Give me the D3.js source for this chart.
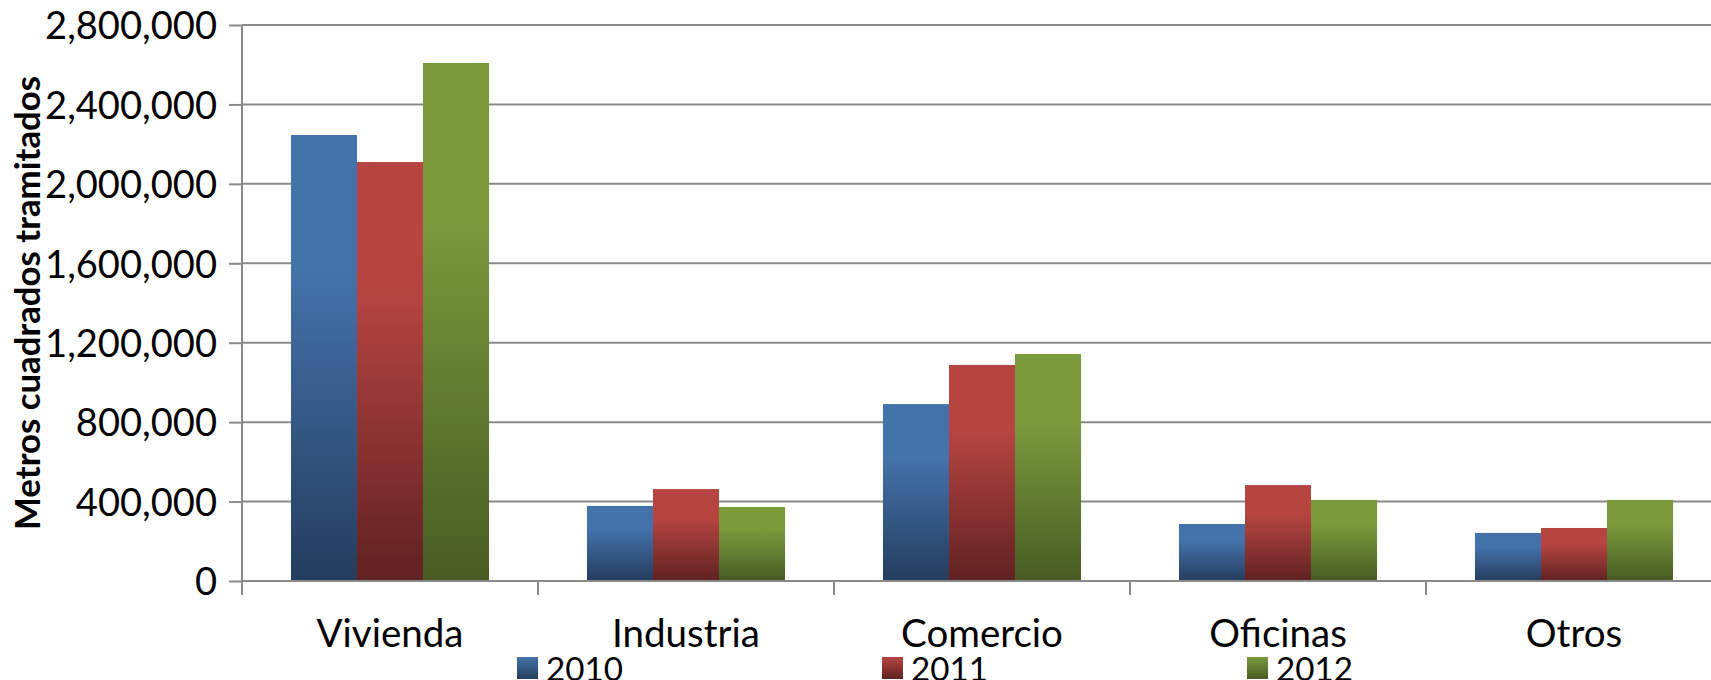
<!DOCTYPE html>
<html>
<head>
<meta charset="utf-8">
<script src="https://cdn.jsdelivr.net/npm/d3@7"></script>
<style>
  html, body { margin: 0; padding: 0; background: #fff; }
  svg { display: block; }
  text { font-family: Lato, "Open Sans", sans-serif; fill: #000; }
</style>
</head>
<body>
<svg id="chart" width="1711" height="680"></svg>
<script>
const categories = ["Vivienda", "Industria", "Comercio", "Oficinas", "Otros"];
const years = ["2010", "2011", "2012"];
const values2010 = [2246000, 378000, 891000, 287000, 242000];
const values2011 = [2110000, 463000, 1088000, 483000, 267000];
const values2012 = [2609000, 373000, 1143000, 408000, 408000];
const yTicks = [0, 400000, 800000, 1200000, 1600000, 2000000, 2400000, 2800000];
const yTitle = "Metros cuadrados tramitados";

const seriesValues = { "2010": values2010, "2011": values2011, "2012": values2012 };
const colorsTop = { "2010": "#4472aa", "2011": "#b64542", "2012": "#7a9a3c" };
const colorsBottom = { "2010": "#253d5d", "2011": "#5f2222", "2012": "#485b24" };

const W = 1711, H = 680;
const plot = { left: 242, right: 1722, top: 25, bottom: 581 };

const svg = d3.select("#chart");

// gradients
const defs = svg.append("defs");
years.forEach(yr => {
  const g = defs.append("linearGradient").attr("id", "g" + yr)
    .attr("x1", 0).attr("y1", 0).attr("x2", 0).attr("y2", 1);
  g.append("stop").attr("offset", "0%").attr("stop-color", colorsTop[yr]);
  g.append("stop").attr("offset", "30%").attr("stop-color", colorsTop[yr]);
  g.append("stop").attr("offset", "100%").attr("stop-color", colorsBottom[yr]);
  const gs = defs.append("linearGradient").attr("id", "gl" + yr)
    .attr("x1", 0).attr("y1", 0).attr("x2", 0).attr("y2", 1);
  gs.append("stop").attr("offset", "0%").attr("stop-color", colorsTop[yr]);
  gs.append("stop").attr("offset", "100%").attr("stop-color", colorsBottom[yr]);
});

const x0 = d3.scaleBand().domain(categories).range([plot.left, plot.right]).paddingInner(0).paddingOuter(0);
const x1 = d3.scaleBand().domain(years).range([0, x0.bandwidth()]).paddingInner(0).paddingOuter(0.742);
const y = d3.scaleLinear().domain([0, 2800000]).range([plot.bottom, plot.top]);

// font size fitting helper
function fitSize(text, weight, targetWidth) {
  const t = svg.append("text").attr("font-size", 100).attr("font-weight", weight).text(text);
  const w = t.node().getComputedTextLength();
  t.remove();
  return 100 * targetWidth / w;
}
const tickSize = fitSize("2,800,000", "normal", 172);
const catSize = fitSize("Vivienda", "normal", 147);
const legSize = fitSize("2010", "normal", 77);
const titleSize = fitSize(yTitle, "bold", 454);

// gridlines
const grid = svg.append("g");
grid.selectAll("line").data(yTicks.filter(d => d > 0)).join("line")
  .attr("x1", plot.left).attr("x2", W)
  .attr("y1", d => y(d)).attr("y2", d => y(d))
  .attr("stroke", "#8a8a8a").attr("stroke-width", 2);

// bars
const groups = svg.append("g").selectAll("g").data(categories).join("g")
  .attr("transform", d => `translate(${x0(d)},0)`);
groups.selectAll("rect").data((c, i) => years.map(yr => ({ yr, v: seriesValues[yr][i] }))).join("rect")
  .attr("x", d => x1(d.yr))
  .attr("width", x1.bandwidth())
  .attr("y", d => y(d.v))
  .attr("height", d => y(0) - y(d.v))
  .attr("fill", d => `url(#g${d.yr})`);

// y axis
const yAxis = d3.axisLeft(y).tickValues(yTicks).tickFormat(d3.format(",")).tickSize(13).tickPadding(12);
const yg = svg.append("g").attr("transform", `translate(${plot.left},0)`).call(yAxis);
yg.select(".domain").remove();
yg.selectAll(".tick line").attr("stroke", "#8a8a8a").attr("stroke-width", 2);
yg.selectAll(".tick text").attr("font-size", tickSize).attr("font-family", "Lato").attr("fill", "#000").attr("dy", "0.36em");
svg.append("line").attr("x1", plot.left).attr("x2", plot.left).attr("y1", plot.top).attr("y2", plot.bottom + 14)
  .attr("stroke", "#8a8a8a").attr("stroke-width", 2);

// x axis
svg.append("line").attr("x1", plot.left).attr("x2", W).attr("y1", plot.bottom).attr("y2", plot.bottom)
  .attr("stroke", "#8a8a8a").attr("stroke-width", 2);
const xg = svg.append("g");
xg.selectAll("line").data(categories.slice(1)).join("line")
  .attr("x1", d => x0(d)).attr("x2", d => x0(d))
  .attr("y1", plot.bottom).attr("y2", plot.bottom + 14)
  .attr("stroke", "#8a8a8a").attr("stroke-width", 2);
xg.selectAll("text").data(categories).join("text")
  .attr("x", d => x0(d) + x0.bandwidth() / 2)
  .attr("y", 647)
  .attr("text-anchor", "middle")
  .attr("font-size", catSize)
  .text(d => d);

// y title
svg.append("text")
  .attr("transform", `translate(40,${(plot.top + plot.bottom) / 2}) rotate(-90)`)
  .attr("text-anchor", "middle")
  .attr("font-weight", "bold")
  .attr("font-size", titleSize)
  .text(yTitle);

// legend
const lx = d3.scalePoint().domain(years).range([517, 1247]);
const leg = svg.append("g").selectAll("g").data(years).join("g")
  .attr("transform", d => `translate(${lx(d)},657)`);
leg.append("rect").attr("width", 21).attr("height", 22).attr("fill", d => `url(#gl${d})`);
leg.append("text").attr("x", 29).attr("y", 24).attr("font-size", legSize).text(d => d);
</script>
</body>
</html>
